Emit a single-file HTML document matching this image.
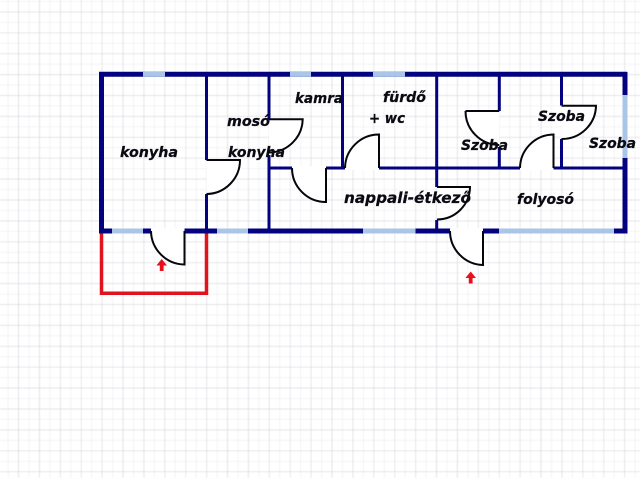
<!DOCTYPE html>
<html><head><meta charset="utf-8"><style>
html,body{margin:0;padding:0;background:#fff;width:640px;height:478px;overflow:hidden}
svg{display:block}
.grid{filter:blur(0.4px)}
.plan{filter:blur(0.25px)}
text{font-family:"DejaVu Sans","Liberation Sans",sans-serif;font-weight:bold;font-style:italic;font-size:14.5px;fill:#0a0a12;stroke:#0a0a12;stroke-width:.25px}
</style></head><body>
<svg width="640" height="478" viewBox="0 0 640 478" xmlns="http://www.w3.org/2000/svg">
<defs>
<pattern id="minor" x="7.85" y="1.2" width="10.45" height="10.45" patternUnits="userSpaceOnUse"><path d="M0 0V10.45M0 0H10.45" stroke="#e8e8ec" stroke-width="1" fill="none"/></pattern>
<pattern id="major" x="18.3" y="11.65" width="20.9" height="20.9" patternUnits="userSpaceOnUse"><path d="M0 0V20.9M0 0H20.9" stroke="#d3d3da" stroke-width="1" fill="none"/></pattern>
</defs>
<rect width="640" height="478" fill="#fff"/>
<g class="grid">
<rect width="640" height="478" fill="url(#minor)"/>
<rect width="640" height="478" fill="url(#major)"/>
</g>
<g class="plan">
<!-- red annex -->
<path d="M101.5 231V293.3H206.5V231" fill="none" stroke="#e0141e" stroke-width="3.5"/>

<!-- outer walls -->
<g fill="none" stroke="#03037f" stroke-width="5">
<path d="M101.5 233.5V74.3H627"/>
<path d="M625 72V95M625 158V233.5"/>
<path d="M99 231H112M143 231H151M184.5 231H217M248 231H363M415.5 231H450M483 231H499M614 231H627.5"/>
</g>
<!-- windows -->
<g stroke="#a9c6e9" stroke-width="5" fill="none">
<path d="M143 74.3H165M290 74.3H311M373 74.3H405"/>
<path d="M625 95V158"/>
<path d="M112 231H143M217 231H248M363 231H415.5M499 231H614"/>
</g>
<!-- inner walls -->
<g fill="none" stroke="#03037f" stroke-width="3">
<path d="M206.5 74V160M206.5 194V231"/>
<path d="M269 74V119M269 155V231"/>
<path d="M342.5 74V168"/>
<path d="M436.7 74V187M436.7 220V231"/>
<path d="M499.3 74V111M499.3 147V168"/>
<path d="M561.5 74V105.5M561.5 139V168"/>
<path d="M269 168H292M326 168H345M379 168H520M553.5 168H625"/>
</g>
<!-- doors -->
<g fill="#fff" stroke="none">
<path d="M206.5 160H240A34 34 0 0 1 206.5 194Z"/>
<path d="M269 119.3H302.7A34 34 0 0 1 269 152.5Z"/>
<path d="M292 168H326V202A34 34 0 0 1 292 168Z"/>
<path d="M345 168A34 34 0 0 1 379 134.5V168Z"/>
<path d="M437 187H470A33 33 0 0 1 437 219.5Z"/>
<path d="M465.5 111H499.3V145A34 34 0 0 1 465.5 111Z"/>
<path d="M520 168A34 34 0 0 1 553.5 134.5V168Z"/>
<path d="M561.5 105.7H596A34 34 0 0 1 561.5 139Z"/>
<path d="M151 231H184.5V264.5A34 34 0 0 1 151 231Z"/>
<path d="M450 231H483V265A34 34 0 0 1 450 231Z"/>
<path d="M151 228H184.5V233H151ZM450 228H483V233H450ZM292 166H326V170H292ZM345 166H379V170H345ZM520 166H553.5V170H520Z"/>
</g>
<g fill="none" stroke="#05050c" stroke-width="2">
<path d="M206.5 160H240A34 34 0 0 1 206.5 194"/>
<path d="M269 119.3H302.7A34 34 0 0 1 269 152.5"/>
<path d="M292 168A34 34 0 0 0 326 202V168"/>
<path d="M345 168A34 34 0 0 1 379 134.5V168"/>
<path d="M437 187H470A33 33 0 0 1 437 219.5"/>
<path d="M465.5 111H499.3M465.5 111A34 34 0 0 0 499.3 145"/>
<path d="M520 168A34 34 0 0 1 553.5 134.5V168"/>
<path d="M561.5 105.7H596A34 34 0 0 1 561.5 139"/>
<path d="M151 231A34 34 0 0 0 184.5 264.5V231"/>
<path d="M450 231A34 34 0 0 0 483 265V231"/>
</g>
<!-- arrows -->
<g fill="#e8101c">
<path d="M161.7 259L167 265.5H163.6V271H159.8V265.5H156.4Z"/>
<path d="M470.7 271.5L476 278H472.6V283.5H468.8V278H465.4Z"/>
</g>
<!-- labels -->
<text x="120" y="157" textLength="58" lengthAdjust="spacingAndGlyphs">konyha</text>
<text x="227" y="126" textLength="43" lengthAdjust="spacingAndGlyphs">mosó</text>
<text x="228" y="157" textLength="57" lengthAdjust="spacingAndGlyphs">konyha</text>
<text x="295" y="103" textLength="48" lengthAdjust="spacingAndGlyphs">kamra</text>
<text x="383" y="102" textLength="43" lengthAdjust="spacingAndGlyphs">fürdő</text>
<text x="369" y="123" textLength="36" lengthAdjust="spacingAndGlyphs">+ wc</text>
<text x="461" y="150" textLength="47" lengthAdjust="spacingAndGlyphs">Szoba</text>
<text x="538" y="121" textLength="47" lengthAdjust="spacingAndGlyphs">Szoba</text>
<text x="589" y="148" textLength="47" lengthAdjust="spacingAndGlyphs">Szoba</text>
<text x="344" y="203" textLength="127" lengthAdjust="spacingAndGlyphs" style="font-size:15.5px">nappali-étkező</text>
<text x="517" y="204" textLength="57" lengthAdjust="spacingAndGlyphs">folyosó</text>
</g>
</svg>
</body></html>
